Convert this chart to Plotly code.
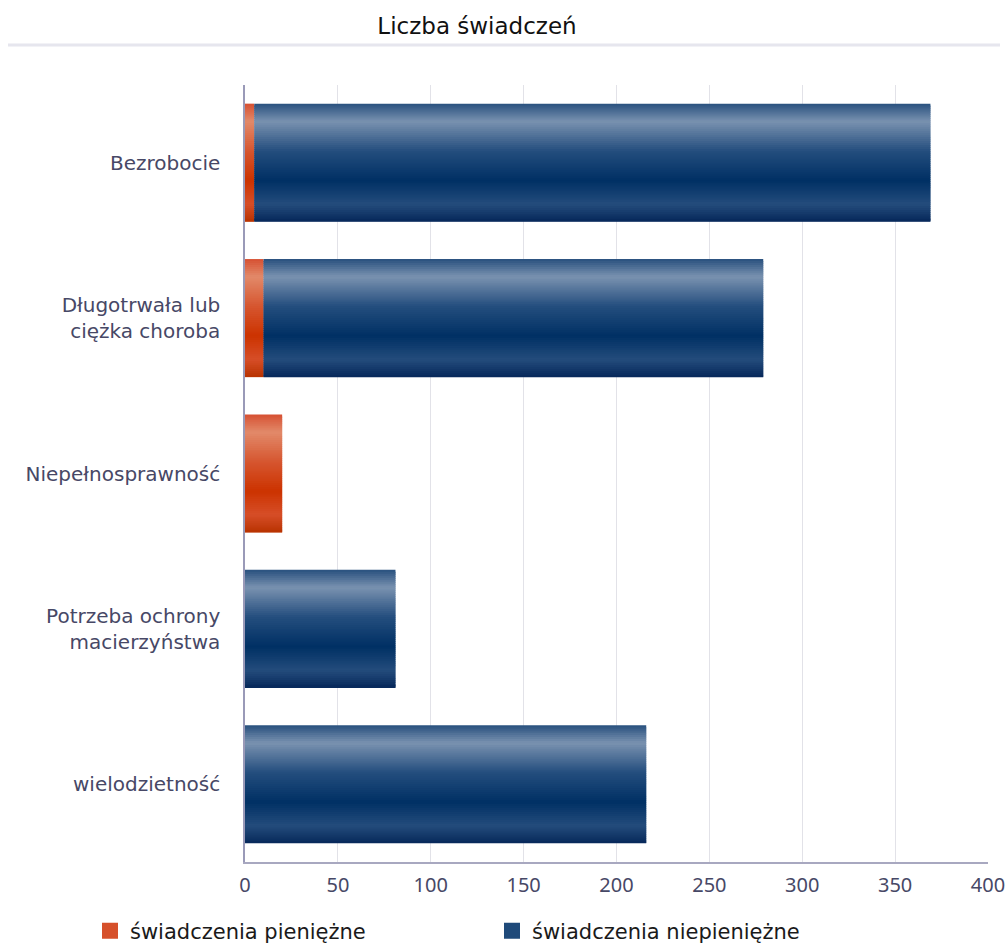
import plotly.graph_objects as go

categories = ["Bezrobocie", "Długotrwała lub<br>ciężka choroba", "Niepełnosprawność",
              "Potrzeba ochrony<br>macierzyństwa", "wielodzietność"]
cash = [5, 10, 20, 0, 0]
noncash = [364, 269, 0, 81, 216]
series_names = ["świadczenia pieniężne", "świadczenia niepieniężne"]
x_ticks = [0, 50, 100, 150, 200, 250, 300, 350, 400]

# gradient stops (position from top, colour)
red_stops = [(0.0, (214, 80, 50)), (0.15, (226, 138, 106)), (0.40, (214, 86, 48)),
             (0.65, (204, 51, 0)), (0.85, (214, 78, 40)), (1.0, (184, 50, 0))]
blue_stops = [(0.0, (40, 80, 126)), (0.15, (122, 146, 176)), (0.40, (36, 78, 126)),
              (0.65, (0, 48, 100)), (0.85, (36, 76, 124)), (1.0, (6, 40, 90))]

N = 60
BAR_W = 0.76

W, H = 1008, 946
L, R, T, B = 245, 20, 85, 84
PW, PH = W - L - R, H - T - B


def interp(stops, t):
    for (p0, c0), (p1, c1) in zip(stops[:-1], stops[1:]):
        if p0 <= t <= p1:
            f = (t - p0) / (p1 - p0) if p1 > p0 else 0
            c = [round(a + (b - a) * f) for a, b in zip(c0, c1)]
            return "rgb(%d,%d,%d)" % tuple(c)
    return "rgb(%d,%d,%d)" % stops[-1][1]


fig = go.Figure()


def add_series(values, base, stops, name, legend_color, legend_id):
    step = BAR_W / N
    for k in range(N):
        t = (k + 0.5) / N
        col = interp(stops, t)
        w = step * 1.8 if k < N - 1 else step
        fig.add_trace(go.Bar(
            y=categories, x=values, base=base, orientation="h",
            width=w, offset=-BAR_W / 2 + k * step,
            marker=dict(color=col, line=dict(width=0)),
            name=name, legendgroup=name, showlegend=False, hoverinfo="skip",
        ))
    # legend entry
    fig.add_trace(go.Scatter(
        x=[None], y=[None], mode="markers", name=name, legendgroup=name,
        marker=dict(color=legend_color, symbol="square", size=20),
        showlegend=True, hoverinfo="skip", legend=legend_id,
    ))


add_series(cash, [0] * len(cash), red_stops, series_names[0], "#d6502a", "legend")
add_series(noncash, cash, blue_stops, series_names[1], "#1f4a7a", "legend2")

legend_common = dict(orientation="h", xref="container", yref="container",
                     y=1 - 931 / H, xanchor="left", yanchor="middle",
                     itemclick=False,
                     font=dict(family="DejaVu Sans", size=21, color="#1a1a1a"),
                     bgcolor="rgba(0,0,0,0)")

fig.update_layout(
    width=W, height=H,
    barmode="overlay",
    plot_bgcolor="white", paper_bgcolor="white",
    margin=dict(l=L, r=R, t=T, b=B, autoexpand=False),
    font=dict(family="DejaVu Sans", size=20, color="#474866"),
    title=dict(text="Liczba świadczeń", x=477 / W, xanchor="center", y=1 - 26 / H,
               yanchor="middle", xref="container", yref="container",
               font=dict(family="DejaVu Sans", size=23, color="#111111")),
    xaxis=dict(range=[0, 400], tickvals=x_ticks, ticktext=[str(v) for v in x_ticks],
               showgrid=True, gridcolor="#e2e2e8", gridwidth=1,
               showline=True, linecolor="#a8a8c0", linewidth=1.5,
               zeroline=False, ticks="", ticklabelstandoff=4, automargin=False,
               tickfont=dict(family="Noto Sans", size=20, color="#474866")),
    yaxis=dict(categoryorder="array", categoryarray=categories, autorange="reversed",
               showgrid=False, showline=True, linecolor="#9a9ab8", linewidth=1.5,
               ticks="", ticklabelstandoff=19, automargin=False,
               tickfont=dict(family="DejaVu Sans", size=20, color="#474866")),
    legend=dict(legend_common, x=90 / W),
    legend2=dict(legend_common, x=492 / W),
    shapes=[dict(type="line", xref="paper", yref="paper",
                 x0=(8 - L) / PW, x1=(1000 - L) / PW,
                 y0=(H - B - 45) / PH, y1=(H - B - 45) / PH,
                 line=dict(color="#e6e6ee", width=3))],
    bargap=0.24,
)

fig.write_html("out.html", config={"displayModeBar": False},
               post_script="document.body.style.margin='0';"
                           "document.body.style.overflow='hidden';")
